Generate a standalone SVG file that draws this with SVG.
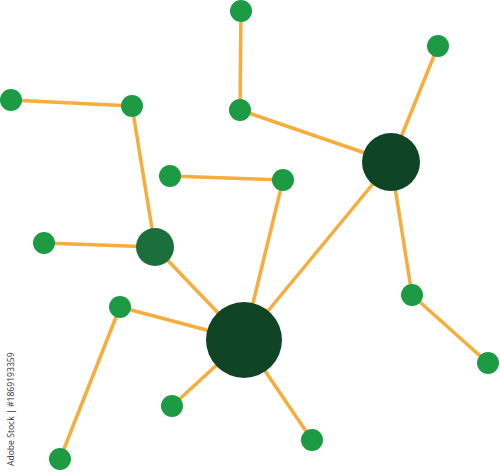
<svg xmlns="http://www.w3.org/2000/svg" width="500" height="472" viewBox="0 0 500 472">
<style>
.e{stroke:#f7ad3c;stroke-width:3.5;fill:none;stroke-linecap:round}
.s{fill:#1c9a44}
.m{fill:#1b6f3a}
.b{fill:#0f4425}
.wm{font-family:"Open Sans","Liberation Sans",sans-serif;font-size:8.6px;fill:#333}
</style>
<rect width="500" height="472" fill="#fff"/>
<g id="connectors">
<line class="e" x1="241" y1="11" x2="240" y2="110"/>
<line class="e" x1="240" y1="110" x2="391" y2="162"/>
<line class="e" x1="438" y1="46" x2="391" y2="162"/>
<line class="e" x1="391" y1="162" x2="412" y2="295"/>
<line class="e" x1="412" y1="295" x2="488" y2="363"/>
<line class="e" x1="391" y1="162" x2="244" y2="340"/>
<line class="e" x1="11" y1="100" x2="132" y2="106"/>
<line class="e" x1="132" y1="106" x2="155" y2="247"/>
<line class="e" x1="170" y1="176" x2="283" y2="180"/>
<line class="e" x1="283" y1="180" x2="244" y2="340"/>
<line class="e" x1="44" y1="243" x2="155" y2="247"/>
<line class="e" x1="155" y1="247" x2="244" y2="340"/>
<line class="e" x1="120" y1="307" x2="244" y2="340"/>
<line class="e" x1="120" y1="307" x2="60" y2="459"/>
<line class="e" x1="172" y1="406" x2="244" y2="340"/>
<line class="e" x1="312" y1="440" x2="244" y2="340"/>
</g>
<g id="hub-center"><circle class="b" cx="244" cy="340" r="38"/></g>
<g id="hub-right"><circle class="b" cx="391" cy="162" r="29"/></g>
<g id="hub-mid"><circle class="m" cx="155" cy="247" r="19"/></g>
<g id="n1"><circle class="s" cx="241" cy="11" r="11"/></g>
<g id="n2"><circle class="s" cx="240" cy="110" r="11"/></g>
<g id="n3"><circle class="s" cx="438" cy="46" r="11"/></g>
<g id="n4"><circle class="s" cx="11" cy="100" r="11"/></g>
<g id="n5"><circle class="s" cx="132" cy="106" r="11"/></g>
<g id="n6"><circle class="s" cx="170" cy="176" r="11"/></g>
<g id="n7"><circle class="s" cx="283" cy="180" r="11"/></g>
<g id="n8"><circle class="s" cx="44" cy="243" r="11"/></g>
<g id="n9"><circle class="s" cx="120" cy="307" r="11"/></g>
<g id="n10"><circle class="s" cx="412" cy="295" r="11"/></g>
<g id="n11"><circle class="s" cx="488" cy="363" r="11"/></g>
<g id="n12"><circle class="s" cx="172" cy="406" r="11"/></g>
<g id="n13"><circle class="s" cx="312" cy="440" r="11"/></g>
<g id="n14"><circle class="s" cx="60" cy="459" r="11"/></g>
<text class="wm" transform="translate(14,466) rotate(-90)">Adobe Stock | #1869193359</text>
</svg>
